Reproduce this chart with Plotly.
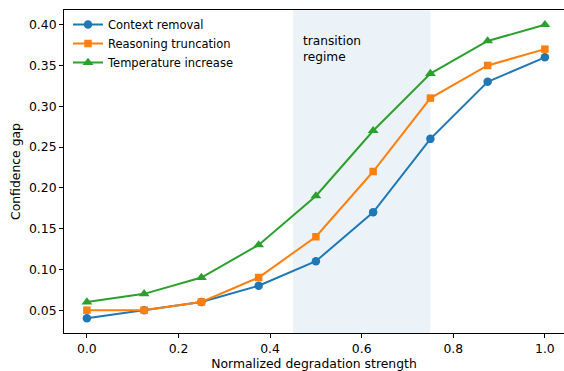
import plotly.graph_objects as go

x_vals = [0.0, 0.125, 0.25, 0.375, 0.5, 0.625, 0.75, 0.875, 1.0]
context_removal = [0.04, 0.05, 0.06, 0.08, 0.11, 0.17, 0.26, 0.33, 0.36]
reasoning_truncation = [0.05, 0.05, 0.06, 0.09, 0.14, 0.22, 0.31, 0.35, 0.37]
temperature_increase = [0.06, 0.07, 0.09, 0.13, 0.19, 0.27, 0.34, 0.38, 0.40]
series_names = ["Context removal", "Reasoning truncation", "Temperature increase"]
transition = [0.45, 0.75]
x_ticks = [0.0, 0.2, 0.4, 0.6, 0.8, 1.0]
y_ticks = [0.05, 0.10, 0.15, 0.20, 0.25, 0.30, 0.35, 0.40]

colors = ["#1f77b4", "#ff7f0e", "#2ca02c"]
symbols = ["circle", "square", "triangle-up"]
sizes = [8.5, 7.5, 9.5]

fig = go.Figure()
for name, ys, c, s, sz in zip(series_names, [context_removal, reasoning_truncation, temperature_increase], colors, symbols, sizes):
    fig.add_trace(go.Scatter(
        x=x_vals, y=ys, name=name, mode="lines+markers",
        line=dict(color=c, width=2),
        marker=dict(symbol=s, size=sz, color=c),
    ))

fig.add_vrect(x0=transition[0], x1=transition[1], fillcolor="rgba(31,119,180,0.09)",
              line_width=0, layer="below")
fig.add_annotation(x=0.468, y=0.391, xref="x", yref="y", text="transition<br>regime",
                   showarrow=False, xanchor="left", yanchor="top", align="left",
                   font=dict(size=12.2, color="black"))

axis_common = dict(showgrid=False, zeroline=False, showline=True, linecolor="black",
                   linewidth=1, ticks="outside", ticklen=4, tickcolor="black",
                   tickfont=dict(size=12.4, color="black"), automargin=False)
fig.update_layout(
    width=564, height=371,
    margin=dict(l=64, r=0, t=10, b=38),
    paper_bgcolor="white", plot_bgcolor="white",
    font=dict(family="DejaVu Sans", size=12, color="black"),
    xaxis=dict(range=[-0.05, 1.0417], tickvals=x_ticks, ticktext=[f"{v:.1f}" for v in x_ticks],
               mirror=True, title=dict(text="Normalized degradation strength", standoff=2,
                                       font=dict(size=12.4)), **axis_common),
    yaxis=dict(range=[0.022, 0.418], tickvals=y_ticks, ticktext=[f"{v:.2f}" for v in y_ticks],
               title=dict(text="Confidence gap", standoff=5, font=dict(size=12.4)), **axis_common),
    legend=dict(x=0.008, y=1.0, xanchor="left", yanchor="top", bgcolor="rgba(0,0,0,0)",
                font=dict(size=11.5), tracegroupgap=0),
    showlegend=True,
)

fig.write_html("out.html", config={"displayModeBar": False},
               post_script="document.body.style.margin='0';document.body.style.overflow='hidden';")
